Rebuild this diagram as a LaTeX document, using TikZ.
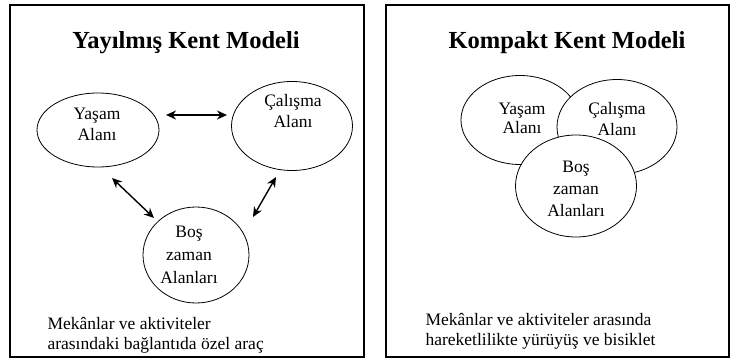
\documentclass[tikz,border=0pt]{standalone}
\usepackage{fontspec}
\setmainfont{Liberation Serif}
\usetikzlibrary{shapes.geometric,arrows.meta}
\begin{document}
\begin{tikzpicture}[x=1pt,y=-1pt,
  panel/.style={draw,line width=1.4pt},
  area/.style={ellipse,draw,line width=0.8pt,inner sep=0pt,fill=white},
  lbl/.style={align=center,font=\fontsize{17.5}{21}\selectfont},
  ttl/.style={font=\fontsize{24.5}{28}\selectfont\bfseries},
  note/.style={align=left,anchor=west,font=\fontsize{17.5}{20}\selectfont},
  link/.style={{Stealth[length=10pt,width=9pt]}-{Stealth[length=10pt,width=9pt]},line width=1.4pt}]
\useasboundingbox (0,0) rectangle (734,363);
\fill[white] (0,0) rectangle (734,363);
% panels
\node[panel,minimum width=354pt,minimum height=352pt,inner sep=0pt] (leftbox) at (187,181) {};
\node[panel,minimum width=343pt,minimum height=352pt,inner sep=0pt] (rightbox) at (557.5,181) {};
% left panel
\node[ttl] (lt) at (186,43) {Yayılmış Kent Modeli};
\node[area,minimum width=122pt,minimum height=74pt] (ly) at (98,130) {};
\node[area,minimum width=121pt,minimum height=89pt] (lc) at (292,126) {};
\node[area,minimum width=106pt,minimum height=96pt] (lb) at (196,255) {};
\node[lbl] (lyt) at (97,124) {Yaşam\\Alanı};
\node[lbl] (lct) at (293,111) {Çalışma\\Alanı};
\node[lbl,font=\fontsize{17.5}{23}\selectfont] (lbt) at (189,255) {Boş\\zaman\\Alanları};
\coordinate (h1) at (166,115); \coordinate (h2) at (227,115);
\coordinate (d1) at (112,178); \coordinate (d2) at (154,218);
\coordinate (e1) at (276,177); \coordinate (e2) at (253,217);
\draw[link] (h1) -- (h2);
\draw[link] (d1) -- (d2);
\draw[link] (e1) -- (e2);
\node[note] (ln) at (44,335) {Mekânlar ve aktiviteler\\arasındaki bağlantıda özel araç};
% right panel
\node[ttl] (rt) at (567,43) {Kompakt Kent Modeli};
\node[area,minimum width=118pt,minimum height=89pt] (ry) at (520,120) {};
\node[area,minimum width=120pt,minimum height=95pt] (rc) at (617,127) {};
\node[area,minimum width=121pt,minimum height=102pt] (rb) at (576,186) {};
\node[lbl,font=\fontsize{17.5}{19}\selectfont] (ryt) at (522,118) {Yaşam\\Alanı};
\node[lbl] (rct) at (617,119) {Çalışma\\Alanı};
\node[lbl,font=\fontsize{17.5}{22}\selectfont] (rbt) at (576,189) {Boş\\zaman\\Alanları};
\node[note] (rn) at (422,331) {Mekânlar ve aktiviteler arasında\\hareketlilikte yürüyüş ve bisiklet};
\end{tikzpicture}
\end{document}
